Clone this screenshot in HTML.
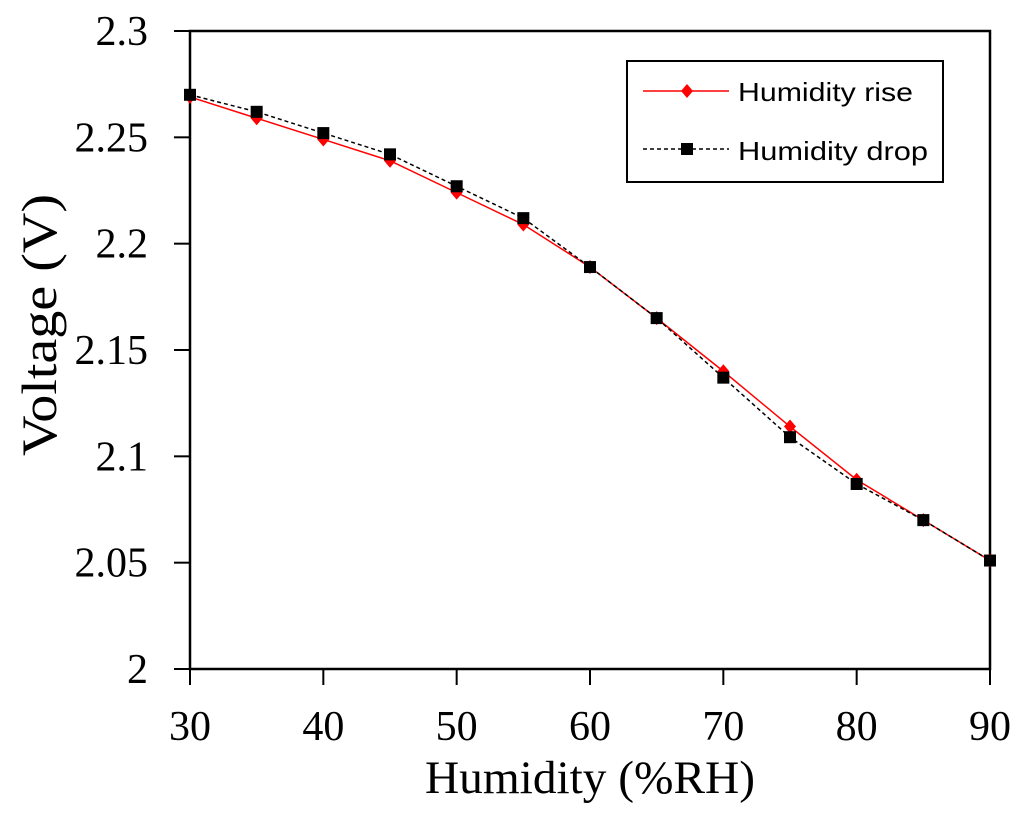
<!DOCTYPE html>
<html><head><meta charset="utf-8"><style>
body{margin:0;background:#fff}
svg text{font-family:"Liberation Serif",serif}
</style></head><body>
<svg width="1024" height="827" xmlns="http://www.w3.org/2000/svg">
<g id="axes"></g>
<g id="series"></g>
<g id="legend">
<rect x="627" y="61" width="316" height="121" fill="#fff" stroke="#000" stroke-width="2"/>
<line x1="643" y1="91" x2="729" y2="91" stroke="#f00" stroke-width="1.5"/>
<polygon points="687,84 693,91 687,98 681,91" fill="#f00"/>
<text x="738" y="101" font-size="26" textLength="175" lengthAdjust="spacingAndGlyphs" style="font-family:'Liberation Sans',sans-serif">Humidity rise</text>
<line x1="643" y1="149" x2="729" y2="149" stroke="#000" stroke-width="1.5" stroke-dasharray="4,3"/>
<rect x="681" y="143" width="12" height="12" fill="#000"/>
<text x="738" y="160" font-size="26" textLength="190" lengthAdjust="spacingAndGlyphs" style="font-family:'Liberation Sans',sans-serif">Humidity drop</text>
</g>
<text x="590" y="793" font-size="47" text-anchor="middle" textLength="330" lengthAdjust="spacingAndGlyphs">Humidity (%RH)</text>
<text transform="translate(56,325) rotate(-90)" font-size="50" text-anchor="middle" textLength="262" lengthAdjust="spacingAndGlyphs">Voltage (V)</text>
</svg>
<script>
const humidity=[30,35,40,45,50,55,60,65,70,75,80,85,90];
const riseVoltage=[2.269,2.259,2.249,2.239,2.224,2.209,2.189,2.165,2.140,2.114,2.089,2.070,2.051];
const dropVoltage=[2.270,2.262,2.252,2.242,2.227,2.212,2.189,2.165,2.137,2.109,2.087,2.070,2.051];
const xTicks=[30,40,50,60,70,80,90];
const yTicks=[2,2.05,2.1,2.15,2.2,2.25,2.3];
const yTickLabels=["2","2.05","2.1","2.15","2.2","2.25","2.3"];
const NS="http://www.w3.org/2000/svg";
const L=190,R=990,T=31,B=669;
const xs=v=>L+(v-30)/(90-30)*(R-L);
const ys=v=>B-(v-2)/(0.3)*(B-T);
function mk(tag,attrs,parent){const e=document.createElementNS(NS,tag);for(const k in attrs)e.setAttribute(k,attrs[k]);parent.appendChild(e);return e;}
const ax=document.getElementById('axes');
const frame=mk('rect',{x:L,y:T,width:R-L,height:B-T,fill:'none',stroke:'#000','stroke-width':2.5},ax);


yTicks.forEach((v,i)=>{
 const t=mk('line',{x1:L-16,x2:L,y1:ys(v),y2:ys(v),stroke:'#000','stroke-width':2},ax);
 
 
 const tx=mk('text',{x:148,y:ys(v)+14,'font-size':42,'text-anchor':'end'},ax);
 tx.textContent=yTickLabels[i];
 
 
});
xTicks.forEach(v=>{
 const t=mk('line',{x1:xs(v),x2:xs(v),y1:B,y2:B+16,stroke:'#000','stroke-width':2},ax);
 
 
 const tx=mk('text',{x:xs(v),y:740,'font-size':42,'text-anchor':'middle'},ax);
 tx.textContent=String(v);
 
 
});
const sg=document.getElementById('series');
const rp=humidity.map((h,i)=>xs(h)+','+ys(riseVoltage[i])).join(' ');
const dp=humidity.map((h,i)=>xs(h)+','+ys(dropVoltage[i])).join(' ');
const rl=mk('polyline',{points:rp,fill:'none',stroke:'#f00','stroke-width':1.5},sg);


const dl=mk('polyline',{points:dp,fill:'none',stroke:'#000','stroke-width':1.5,'stroke-dasharray':'4,3'},sg);


humidity.forEach((h,i)=>{
 const x=xs(h),y=ys(riseVoltage[i]);
 const p=mk('polygon',{points:`${x},${y-7} ${x+6},${y} ${x},${y+7} ${x-6},${y}`,fill:'#f00'},sg);
 
 
});
humidity.forEach((h,i)=>{
 const x=xs(h),y=ys(dropVoltage[i]);
 const p=mk('rect',{x:x-6,y:y-6,width:12,height:12,fill:'#000'},sg);
 
 
});
</script>
</body></html>
